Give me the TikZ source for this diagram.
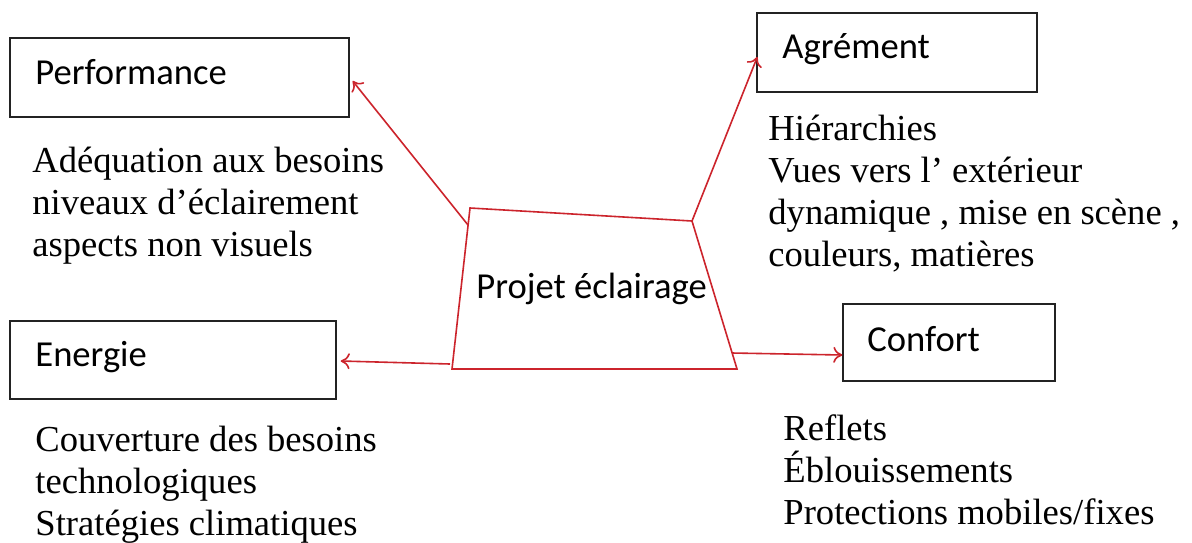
\documentclass[tikz,border=0pt]{standalone}
\usepackage{fontspec}
\setmainfont{Liberation Serif}
\newfontfamily\boxfont{Carlito}
\usetikzlibrary{calc,arrows.meta}
\definecolor{linkred}{RGB}{204,36,44}
\definecolor{framegray}{RGB}{35,35,35}
\begin{document}
\begin{tikzpicture}[x=0.5pt,y=-0.5pt,
  themebox/.style={draw=framegray,line width=0.7pt,inner sep=0pt},
  boxlabel/.style={anchor=base west,inner sep=0pt,font=\boxfont\fontsize{18.3}{21}\selectfont},
  notes/.style={anchor=base west,inner sep=0pt,align=left,font=\fontsize{18.3}{21}\selectfont},
  link/.style={draw=linkred,line width=0.8pt,-{To[length=4.5pt,width=8pt]}}]
\useasboundingbox[fill=white] (0,0) rectangle (1192,542);

% theme boxes
\node[themebox,minimum width=169.5pt,minimum height=39.5pt] (perf) at (179.5,77.5) {};
\node[themebox,minimum width=140pt,minimum height=39.5pt] (agre) at (897,52.5) {};
\node[themebox,minimum width=163pt,minimum height=39pt] (ener) at (173,360) {};
\node[themebox,minimum width=106pt,minimum height=38.5pt] (conf) at (949,342.5) {};

\node[boxlabel] (perfT) at (35,84) {Performance};
\node[boxlabel] (agreT) at (782,58) {Agrément};
\node[boxlabel] (enerT) at (35,366) {Energie};
\node[boxlabel] (confT) at (867,351) {Confort};

% central project shape
\coordinate (tl) at (470,208);
\coordinate (tr) at (692,221);
\coordinate (br) at (737,369);
\coordinate (bl) at (452,369);
\draw[linkred,line width=0.8pt,line join=miter] (tl) -- (tr) -- (br) -- (bl) -- cycle;
\node[boxlabel] (proj) at (476,298) {Projet éclairage};

% arrow starts on the shape
\coordinate (sP) at (468,225);
\coordinate (sE) at (450,364);
\coordinate (sC) at (732,353);

\draw[link] (sP) -- ($(perf.east)+(3,3.5)$);
\draw[link] (tr) -- ($(agre.west)+(1,4.5)$);
\draw[link] (sE) -- ($(ener.east)+(4,1)$);
\draw[link] (sC) -- ($(conf.west)+(0,12.5)$);

% descriptions (anchored at the baseline of the last line)
\node[notes] (perfN) at (32,256) {Adéquation aux besoins\\niveaux d’éclairement\\aspects non visuels};
\node[notes] (agreN) at (768,266) {Hiérarchies\\Vues vers l’ extérieur\\dynamique , mise en scène ,\\couleurs, matières};
\node[notes] (enerN) at (35,535) {Couverture des besoins\\technologiques\\Stratégies climatiques};
\node[notes] (confN) at (783,524) {Reflets\\Éblouissements\\Protections mobiles/fixes};
\end{tikzpicture}
\end{document}
